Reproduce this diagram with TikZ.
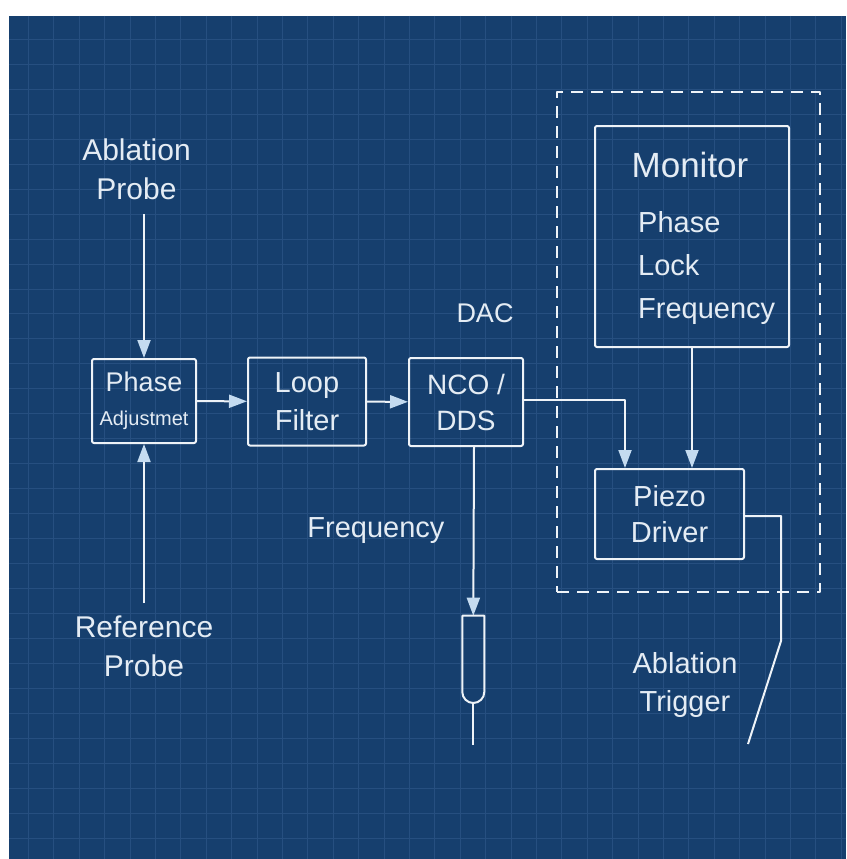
\documentclass[tikz,border=0pt]{standalone}
\usepackage{fontspec}
\setmainfont{Liberation Sans}
\usepackage{xcolor}
\usetikzlibrary{arrows.meta}
\definecolor{bpblue}{HTML}{163F6E}
\definecolor{bpgrid}{HTML}{264F80}
\definecolor{bpline}{HTML}{EEF3F8}
\definecolor{bptip}{HTML}{C4DBF0}
\definecolor{bptext}{HTML}{E4ECF4}

\begin{document}
\begin{tikzpicture}[x=1pt,y=-1pt,>={Triangle[length=18pt,width=13pt,color=bptip]},line join=round,
  block/.style={draw=bpline,line width=2pt,rounded corners=2pt,inner sep=0pt,text=bptext,align=center,font=\fontsize{29}{38}\selectfont},
  lbl/.style={text=bptext,inner sep=0pt,align=center,font=\fontsize{29}{38}\selectfont},
  wire/.style={draw=bpline,line width=2pt},
  gridline/.style={draw=bpgrid,line width=0.8pt}]
  \useasboundingbox (0,0) rectangle (846,859);
  \fill[white] (0,0) rectangle (846,859);
  \fill[bpblue] (9,16) rectangle (846,859);
  \foreach \i in {0,...,32} \draw[gridline] ({28.3+25.4*\i},16) -- ({28.3+25.4*\i},859);
  \foreach \i in {0,...,32} \draw[gridline] (9,{39.3+24.96*\i}) -- (846,{39.3+24.96*\i});

  \node[draw=bpline,line width=1.6pt,dash pattern=on 12pt off 8pt,minimum width=263pt,minimum height=500pt] (group) at (688.5,342) {};

  \node[block,minimum width=104pt,minimum height=84pt,font=\fontsize{27}{34}\selectfont] (phase) at (144,401) {Phase\\{\fontsize{20}{34}\selectfont Adjustmet}};
  \node[block,minimum width=118pt,minimum height=88pt] (loop) at (307,401.5) {Loop\\Filter};
  \node[block,minimum width=114pt,minimum height=88pt,font=\fontsize{28}{36}\selectfont] (nco) at (466,402) {NCO /\\DDS};
  \node[block,minimum width=194pt,minimum height=221pt] (monitor) at (692,236.5) {};
  \node[block,minimum width=149pt,minimum height=90pt,font=\fontsize{29}{36}\selectfont] (piezo) at (669.5,514) {Piezo\\Driver};

  \node[lbl,font=\fontsize{35}{40}\selectfont] (mtitle) at (690,165) {Monitor};
  \node[lbl,align=left,anchor=west,font=\fontsize{29}{43}\selectfont] (mlist) at (638,268) {Phase\\Lock\\Frequency};
  \node[lbl,font=\fontsize{30}{39}\selectfont] (ablprobe) at (136.5,169.5) {Ablation\\Probe};
  \node[lbl,font=\fontsize{30}{39}\selectfont] (refprobe) at (144,646) {Reference\\Probe};
  \node[lbl,font=\fontsize{27}{36}\selectfont] (dac) at (485,313) {DAC};
  \node[lbl] (freq) at (376,531) {Frequency};
  \node[lbl,font=\fontsize{29}{37.5}\selectfont] (trigger) at (685,685) {Ablation\\Trigger};

  \coordinate (ablstart) at (144,214);
  \coordinate (refstart) at (144,603);
  \coordinate (captop) at (473.3,615.7);
  \coordinate (capbot) at (473.3,703);
  \coordinate (freqend) at (473.3,745);
  \coordinate (trigknee) at (781,641);
  \coordinate (trigend) at (748,744);

  \draw[wire,->] (ablstart) -- (phase.north);
  \draw[wire,->] (refstart) -- (phase.south);
  \draw[wire,->] (phase) -- (loop);
  \draw[wire,->] (loop) -- (nco);
  \draw[wire,->] ([yshift=2pt]nco.east) -| ([xshift=31pt]piezo.north west);
  \draw[wire,->] (monitor.south) -- (monitor.south |- piezo.north);
  \draw[wire,->] ([xshift=8pt]nco.south) -- (captop);
  \draw[wire] (462.3,615.7) -- (462.3,692) arc[start angle=180,end angle=0,radius=11] -- (484.3,615.7) -- cycle;
  \draw[wire] (capbot) -- (freqend);
  \draw[wire] ([yshift=-2pt]piezo.east) -| (trigknee) -- (trigend);
\end{tikzpicture}
\end{document}
